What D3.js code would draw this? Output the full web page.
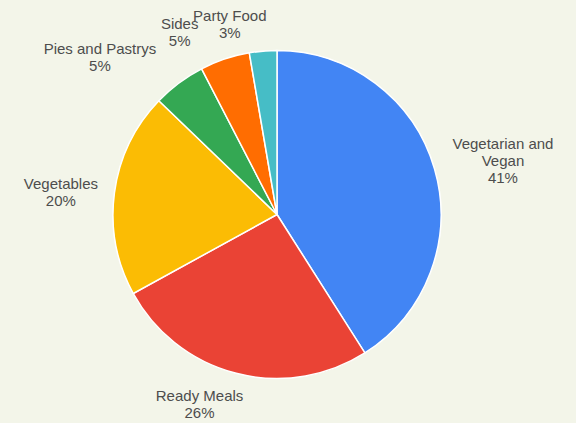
<!DOCTYPE html>
<html>
<head>
<meta charset="utf-8">
<script src="https://cdn.jsdelivr.net/npm/d3@7"></script>
<style>
  html, body { margin: 0; padding: 0; background: #f3f5e9; }
  svg { display: block; }
</style>
</head>
<body>
<svg width="576" height="423"></svg>
<script>
var width = 576;
var height = 423;

// data (share of total, %)
var categories = ['Vegetarian and Vegan', 'Ready Meals', 'Vegetables', 'Pies and Pastrys', 'Sides', 'Party Food'];
var values = [41, 26, 20.2, 5.2, 4.9, 2.7];
var labelLines = [['Vegetarian and', 'Vegan'], ['Ready Meals'], ['Vegetables'], ['Pies and Pastrys'], ['Sides'], ['Party Food']];
var colors = ['#4285f4', '#ea4335', '#fbbc04', '#34a853', '#ff6d01', '#46bdc6'];

// layout
var cx = 277, cy = 214.5, radius = 164;
var labelRadius = 215;
var lineHeight = 17;
// label nudges so they sit where the chart put them
var nudges = [[19.5, 11.5], [-24, -13], [-3, 11], [-48.5, 20], [-29, 27], [-29, 29]];

var data = categories.map((c, i) => ({ name: c, value: values[i], lines: labelLines[i], color: colors[i], i: i }));
var total = d3.sum(values);

var pie = d3.pie().value(d => d.value).sort(null);
var arc = d3.arc().innerRadius(0).outerRadius(radius);
var labelArc = d3.arc().innerRadius(labelRadius).outerRadius(labelRadius);

var svg = d3.select('svg');
svg.append('rect').attr('width', width).attr('height', height).attr('fill', '#f3f5e9');

var g = svg.append('g').attr('transform', 'translate(' + [cx, cy] + ')');
var arcs = pie(data);

g.selectAll('path').data(arcs).enter().append('path')
  .attr('d', arc)
  .attr('fill', d => d.data.color)
  .attr('stroke', '#ffffff')
  .attr('stroke-width', 1.5);

var labels = g.selectAll('text').data(arcs).enter().append('text')
  .attr('text-anchor', 'middle')
  .attr('font-family', 'Liberation Sans, Arial, sans-serif')
  .attr('font-size', 15)
  .attr('fill', '#4d4d4d')
  .each(function(d) {
    var c = labelArc.centroid(d);
    var n = nudges[d.data.i];
    var x = c[0] + n[0];
    var yMid = c[1] + n[1];
    var lines = d.data.lines.concat([Math.round(d.data.value / total * 100) + '%']);
    var t = d3.select(this);
    lines.forEach((s, k) => {
      t.append('tspan')
        .attr('x', x)
        .attr('y', yMid + (k - (lines.length - 1) / 2) * lineHeight)
        .text(s);
    });
  });
</script>
</body>
</html>
